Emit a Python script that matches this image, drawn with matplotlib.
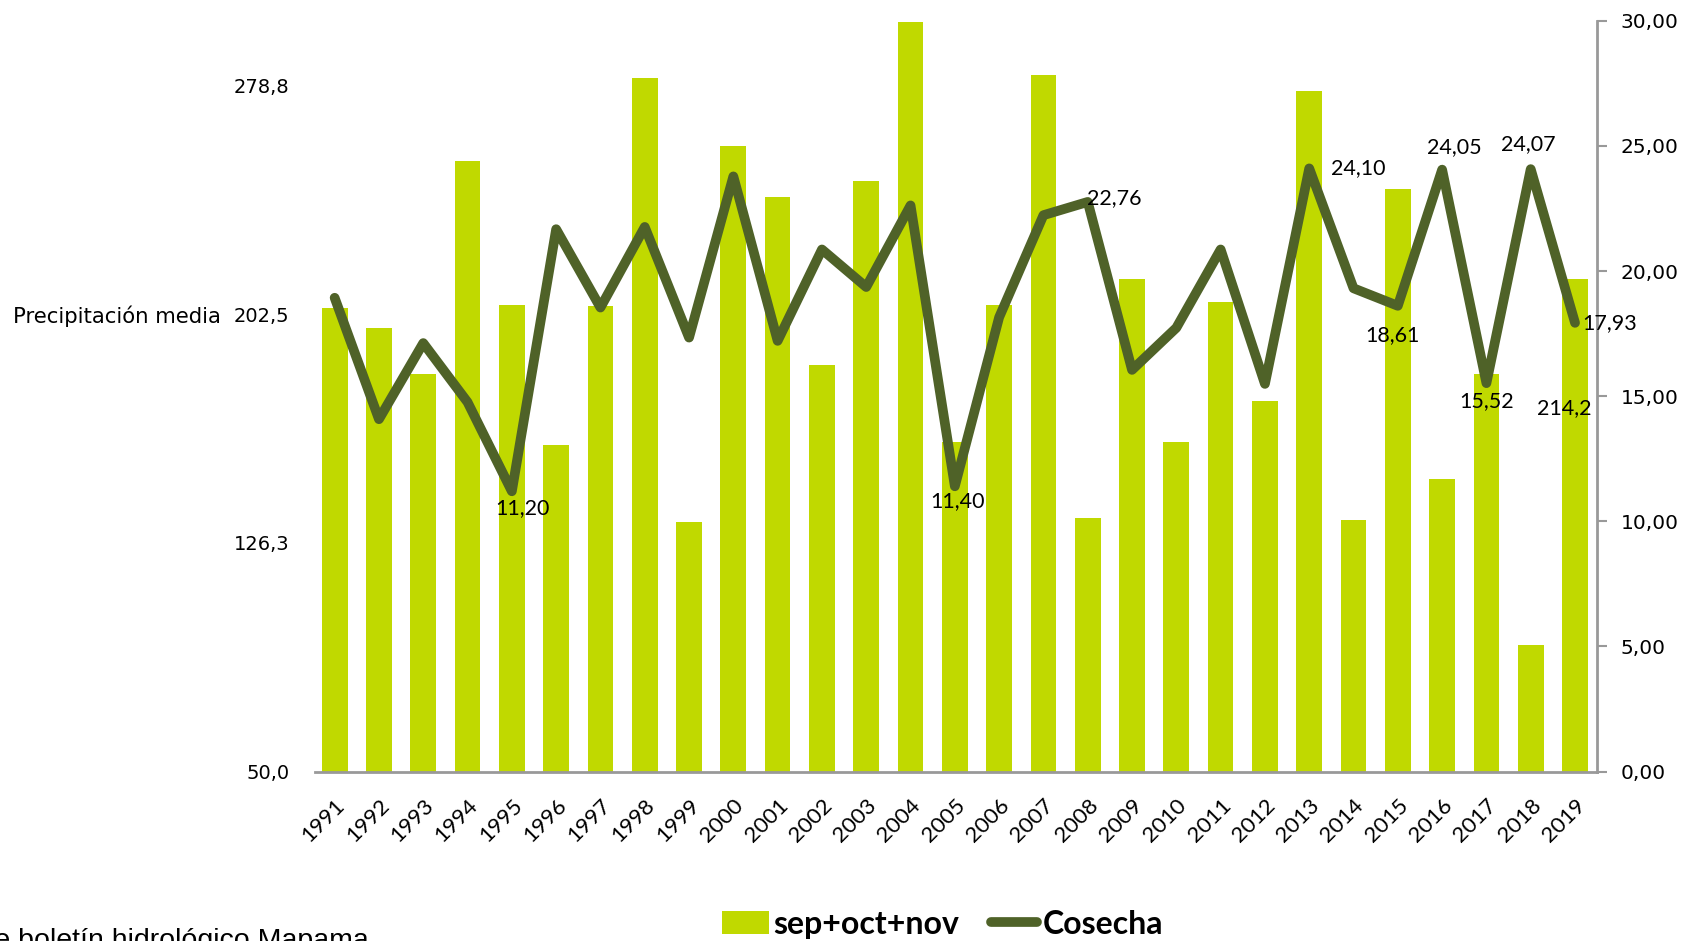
import matplotlib
matplotlib.use("Agg")
import matplotlib.pyplot as plt
from matplotlib.patches import Patch
from matplotlib.lines import Line2D

years = [str(y) for y in range(1991, 2020)]
# precipitation sep+oct+nov (left axis)
precip = [204.8, 198.0, 182.6, 253.6, 205.6, 159.0, 205.2, 281.5, 133.2, 258.6,
          241.8, 185.5, 247.1, 300.0, 160.0, 205.6, 282.3, 134.6, 214.2, 160.0,
          206.6, 173.7, 277.2, 133.9, 244.3, 147.5, 182.6, 92.3, 214.2]
# cosecha (right axis)
cosecha = [18.93, 14.08, 17.12, 14.76, 11.20, 21.67, 18.54, 21.76, 17.34, 23.78,
           17.21, 20.86, 19.36, 22.62, 11.40, 18.15, 22.23, 22.76, 16.05, 17.73,
           20.86, 15.49, 24.10, 19.31, 18.61, 24.05, 15.52, 24.07, 17.93]
left_ticks = [50.0, 126.3, 202.5, 278.8]
right_ticks = [0, 5, 10, 15, 20, 25, 30]

# labelled points: year -> (text, dx, dy, ha) offsets in points, va center
line_labels = {
    "1995": ("11,20", 8, -12, "center"),
    "2005": ("11,40", 2, -11, "center"),
    "2008": ("22,76", 19, 3, "center"),
    "2013": ("24,10", 35, 0, "center"),
    "2015": ("18,61", -4, -21, "center"),
    "2016": ("24,05", 9, 16, "center"),
    "2017": ("15,52", 0, -13, "center"),
    "2018": ("24,07", -2, 18, "center"),
    "2019": ("17,93", 5, 0, "left"),
}

bar_color = "#C0D900"
line_color = "#4F6228"
narrow = ["Lato", "DejaVu Sans"]

fig = plt.figure(figsize=(16.83, 9.41), dpi=100, facecolor="white")
ax = fig.add_axes([0.187, 0.18, 0.762, 0.798])
x = list(range(len(years)))

ax.bar(x, precip, width=0.58, color=bar_color, zorder=2)
ax.set_ylim(50, 300.5)
ax.set_xlim(-0.45, len(years) - 0.5)
ax.set_yticks(left_ticks)
ax.set_yticklabels([f"{v:.1f}".replace(".", ",") for v in left_ticks], fontsize=14)
ax.tick_params(axis="y", length=0, pad=18)
ax.set_xticks(x)
ax.set_xticklabels(years, rotation=45, ha="right", rotation_mode="anchor",
                   fontsize=16, family=narrow)
ax.tick_params(axis="x", length=0, pad=17)
for s in ["left", "top", "right"]:
    ax.spines[s].set_visible(False)
ax.spines["bottom"].set_color("#999999")
ax.spines["bottom"].set_linewidth(2)

ax.set_ylabel("Precipitación media", rotation=0, fontsize=15.3)
ax.yaxis.set_label_coords(-0.073, 0.607)
ax.yaxis.label.set_ha("right")
ax.yaxis.label.set_va("center")

# 2019 bar label
ax.annotate("214,2", (x[-1], precip[-1]), xytext=(-8, -93), textcoords="offset points",
            ha="center", va="center", fontsize=15.5, family=narrow)

ax2 = ax.twinx()
ax2.plot(x, cosecha, color=line_color, linewidth=7, solid_capstyle="round",
         solid_joinstyle="round", zorder=3)
ax2.set_ylim(0, 30)
ax2.set_yticks(right_ticks)
ax2.set_yticklabels([f"{v:.2f}".replace(".", ",") for v in right_ticks], fontsize=14.5)
ax2.tick_params(axis="y", length=7, width=1.5, color="#999999", pad=10)
for s in ["left", "top", "bottom"]:
    ax2.spines[s].set_visible(False)
ax2.spines["right"].set_color("#999999")
ax2.spines["right"].set_linewidth(2)

for i, yr in enumerate(years):
    if yr in line_labels:
        txt, dx, dy, ha = line_labels[yr]
        ax2.annotate(txt, (i, cosecha[i]), xytext=(dx, dy), textcoords="offset points",
                     ha=ha, va="center", fontsize=15.5, family=narrow)

handles = [Patch(facecolor=bar_color, edgecolor="none"),
           Line2D([0], [0], color=line_color, linewidth=7, solid_capstyle="round")]
fig.legend(handles, ["sep+oct+nov", "Cosecha"], loc="center", bbox_to_anchor=(0.56, 0.018),
           ncol=2, frameon=False, handlelength=1.45, handletextpad=0.15, columnspacing=1.0,
           prop={"family": narrow, "weight": "bold", "size": 23})

fig.text(0.219, 0.0, "Fuente: elaboración propia a partir de boletín hidrológico Mapama",
         ha="right", va="center", fontsize=20.5, family="Liberation Sans")

fig.savefig("out.png", dpi=100, facecolor="white")
